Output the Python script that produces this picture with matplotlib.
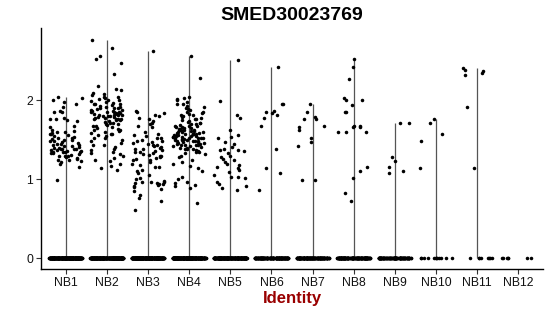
import numpy as np
import matplotlib
matplotlib.use("Agg")
import matplotlib.pyplot as plt

plt.rcParams['font.family'] = ['Liberation Sans', 'DejaVu Sans']

title = "SMED30023769"
xlabel = "Identity"
categories = ["NB1", "NB2", "NB3", "NB4", "NB5", "NB6", "NB7", "NB8", "NB9", "NB10", "NB11", "NB12"]

# non-zero expression values per cluster
nb1 = [2.05, 2.03, 2.00, 1.98, 1.96, 1.92, 1.87, 1.86, 1.85, 1.78, 1.77, 1.76, 1.75, 1.74, 1.68, 1.66,
       1.62, 1.61, 1.60, 1.60, 1.59, 1.58, 1.57, 1.56, 1.55, 1.54, 1.53, 1.52, 1.51, 1.50, 1.50, 1.49,
       1.48, 1.47, 1.46, 1.45, 1.45, 1.44, 1.43, 1.42, 1.42, 1.41, 1.40, 1.40, 1.39, 1.39, 1.38, 1.38,
       1.37, 1.37, 1.36, 1.36, 1.35, 1.35, 1.34, 1.34, 1.33, 1.33, 1.32, 1.31, 1.30, 1.30, 1.29, 1.28,
       1.27, 1.26, 1.25, 1.24, 1.23, 1.22, 1.20, 1.15, 0.99]
nb2 = [2.77, 2.67, 2.57, 2.53, 2.48, 2.34, 2.18, 2.15, 2.13, 2.10, 2.08, 2.07, 2.05, 2.04, 2.03, 2.02,
       2.01, 2.00, 1.99, 1.98, 1.97, 1.96, 1.95, 1.95, 1.94, 1.93, 1.92, 1.92, 1.91, 1.90, 1.90, 1.89,
       1.88, 1.88, 1.87, 1.87, 1.86, 1.86, 1.85, 1.85, 1.84, 1.84, 1.83, 1.83, 1.82, 1.82, 1.81, 1.81,
       1.80, 1.80, 1.80, 1.79, 1.79, 1.78, 1.78, 1.77, 1.77, 1.76, 1.76, 1.75, 1.75, 1.74, 1.73, 1.72,
       1.71, 1.70, 1.70, 1.69, 1.68, 1.67, 1.66, 1.65, 1.64, 1.63, 1.62, 1.61, 1.60, 1.59, 1.58, 1.57,
       1.56, 1.55, 1.53, 1.52, 1.50, 1.48, 1.46, 1.44, 1.43, 1.41, 1.39, 1.37, 1.35, 1.33, 1.32, 1.30,
       1.27, 1.24, 1.23, 1.20, 1.17, 1.14, 1.12]
nb3 = [2.63, 1.87, 1.85, 1.84, 1.82, 1.80, 1.78, 1.76, 1.74, 1.72, 1.70, 1.68, 1.66, 1.60, 1.58, 1.56,
       1.55, 1.53, 1.52, 1.50, 1.49, 1.48, 1.47, 1.46, 1.45, 1.44, 1.43, 1.42, 1.41, 1.40, 1.39, 1.38,
       1.37, 1.36, 1.35, 1.34, 1.33, 1.32, 1.31, 1.30, 1.29, 1.28, 1.27, 1.26, 1.25, 1.24, 1.22, 1.20,
       1.18, 1.16, 1.15, 1.12, 1.10, 1.08, 1.05, 1.02, 1.00, 0.98, 0.97, 0.96, 0.96, 0.95, 0.95, 0.94,
       0.94, 0.93, 0.92, 0.90, 0.88, 0.85, 0.80, 0.76, 0.72, 0.61]
nb4 = [2.57, 2.28, 2.04, 2.03, 2.02, 2.00, 1.98, 1.96, 1.95, 1.93, 1.92, 1.90, 1.89, 1.88, 1.86, 1.85,
       1.84, 1.83, 1.82, 1.81, 1.80, 1.79, 1.78, 1.77, 1.76, 1.75, 1.74, 1.73, 1.72, 1.71, 1.70, 1.70,
       1.69, 1.68, 1.68, 1.67, 1.66, 1.66, 1.65, 1.65, 1.64, 1.64, 1.63, 1.63, 1.62, 1.62, 1.61, 1.61,
       1.60, 1.60, 1.60, 1.59, 1.59, 1.58, 1.58, 1.58, 1.57, 1.57, 1.56, 1.56, 1.56, 1.55, 1.55, 1.55,
       1.54, 1.54, 1.54, 1.53, 1.53, 1.52, 1.52, 1.52, 1.51, 1.51, 1.50, 1.50, 1.50, 1.49, 1.49, 1.48,
       1.48, 1.47, 1.47, 1.46, 1.46, 1.45, 1.45, 1.44, 1.44, 1.43, 1.43, 1.42, 1.42, 1.41, 1.40, 1.40,
       1.39, 1.38, 1.38, 1.37, 1.36, 1.35, 1.34, 1.33, 1.32, 1.30, 1.28, 1.25, 1.22, 1.20, 1.17, 1.14,
       1.11, 1.03, 1.00, 0.97, 0.95, 0.93, 0.92, 0.89, 0.70]
nb5 = [2.52, 1.99, 1.82, 1.78, 1.62, 1.56, 1.54, 1.52, 1.47, 1.45, 1.41, 1.39, 1.37, 1.37, 1.36, 1.33,
       1.30, 1.28, 1.26, 1.24, 1.22, 1.20, 1.18, 1.16, 1.14, 1.12, 1.09, 1.06, 1.03, 1.03, 1.02, 0.96,
       0.94, 0.92, 0.89, 0.86]
nb6 = [2.43, 1.96, 1.95, 1.87, 1.85, 1.84, 1.82, 1.78, 1.67, 1.38, 1.14, 1.08, 0.87]
nb7 = [1.95, 1.85, 1.79, 1.77, 1.77, 1.67, 1.66, 1.62, 1.53, 1.47, 1.42, 0.99, 0.99]
nb8 = [2.53, 2.42, 2.27, 2.03, 2.01, 2.00, 1.94, 1.86, 1.86, 1.67, 1.67, 1.66, 1.66, 1.60, 1.60, 1.60,
       1.15, 1.11, 1.01, 0.82, 0.73]
nb9 = [1.72, 1.71, 1.28, 1.23, 1.15, 1.10, 1.08]
nb10 = [1.77, 1.72, 1.58, 1.49, 1.14]
nb11 = [2.41, 2.39, 2.37, 2.35, 2.32, 1.92, 1.14]
nb12 = []
nonzero = [nb1, nb2, nb3, nb4, nb5, nb6, nb7, nb8, nb9, nb10, nb11, nb12]
# number of cells with zero expression per cluster
zero_counts = [300, 300, 300, 300, 250, 160, 160, 160, 120, 12, 8, 7]

fig = plt.figure(figsize=(5.5, 3.16), dpi=100)
ax = fig.add_axes([41/550, 1-269/316, (543-41)/550, (269-28)/316])


def scramble(k):
    # deterministic hash-like jitter in [0, 1)
    v = np.sin(k * 12.9898 + 78.233) * 43758.5453
    return v - np.floor(v)


for i, (vals, nz) in enumerate(zip(nonzero, zero_counts)):
    vals = np.array(vals, dtype=float)
    yv = np.concatenate([vals, np.zeros(nz)])
    if len(vals) > 0:
        ax.vlines(i, 0, yv.max(), color='#555555', lw=0.9, zorder=1)
    n = len(yv)
    k = np.arange(n) + 1000 * (i + 1)
    off = (scramble(k) - 0.5) * 0.8
    ax.scatter(i + off, yv, s=6.5, color='black', linewidths=0, zorder=2)

ax.set_xlim(-0.6, len(categories) - 0.4)
ax.set_ylim(-0.139, 2.92)
ax.set_xticks(range(len(categories)))
ax.set_xticklabels(categories)
ax.set_yticks([0, 1, 2])
ax.set_yticklabels(["0", "1", "2"])
ax.tick_params(axis='both', length=3.5, width=0.8, color='#333333', labelsize=8.8,
               labelcolor='#111111', pad=2)
for s in ['top', 'right']:
    ax.spines[s].set_visible(False)
for s in ['left', 'bottom']:
    ax.spines[s].set_linewidth(1.0)
    ax.spines[s].set_color('black')

ax.set_xlabel(xlabel, fontsize=12, fontweight='bold', color='#990000', labelpad=2)
fig.text((41+543)/2/550, 1-15/316, title, fontsize=14, fontweight='bold',
         ha='center', va='center')

fig.savefig("out.png", dpi=100)
